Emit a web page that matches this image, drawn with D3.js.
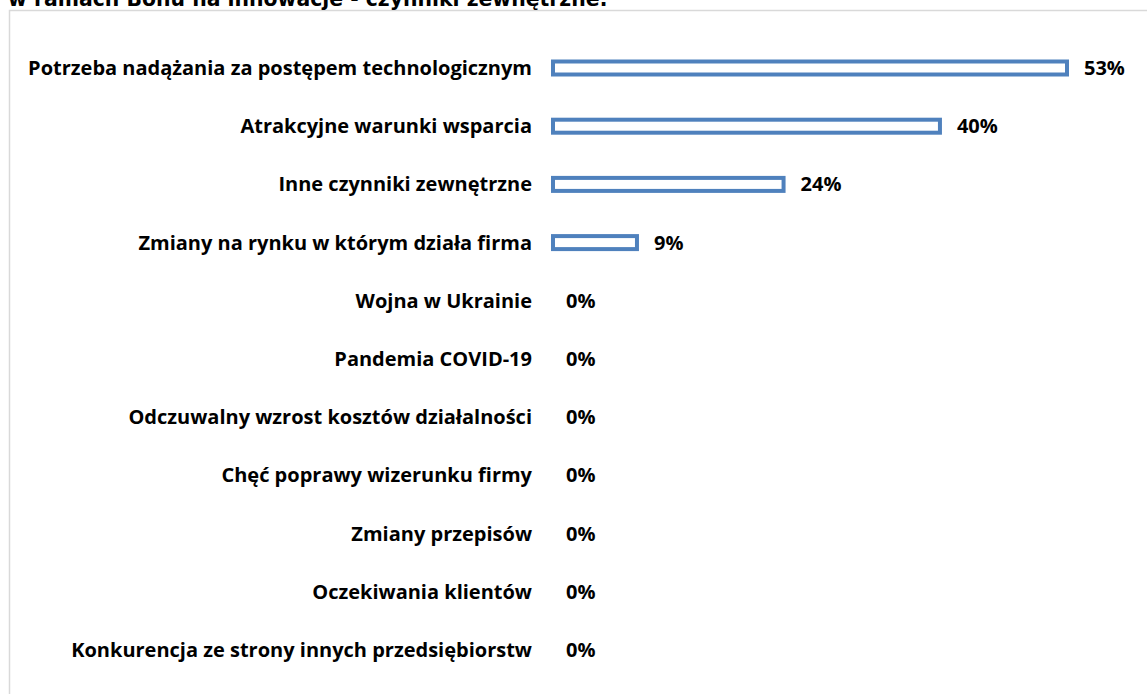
<!DOCTYPE html>
<html>
<head>
<meta charset="utf-8">
<script src="https://cdn.jsdelivr.net/npm/d3@7"></script>
<style>
  html, body { margin: 0; padding: 0; background: #fff; }
  svg { display: block; }
</style>
</head>
<body>
<svg id="chart" width="1147" height="694"></svg>
<script>
// Czynniki zewnętrzne – odsetek wskazań
const categories = [
  "Potrzeba nadążania za postępem technologicznym",
  "Atrakcyjne warunki wsparcia",
  "Inne czynniki zewnętrzne",
  "Zmiany na rynku w którym działa firma",
  "Wojna w Ukrainie",
  "Pandemia COVID-19",
  "Odczuwalny wzrost kosztów działalności",
  "Chęć poprawy wizerunku firmy",
  "Zmiany przepisów",
  "Oczekiwania klientów",
  "Konkurencja ze strony innych przedsiębiorstw"
];
const values = [53, 40, 24, 9, 0, 0, 0, 0, 0, 0, 0];
const titleText = "w ramach Bonu na innowacje - czynniki zewnętrzne:";

const svg = d3.select("#chart");
const W = 1147, H = 694;

// chart frame
svg.append("rect")
  .attr("x", 9.5).attr("y", 10.5)
  .attr("width", W + 10).attr("height", H + 10)
  .attr("fill", "#fff")
  .attr("stroke", "#d9d9d9").attr("stroke-width", 1.5);

// title (sits above the frame, partly outside the view)
svg.append("text")
  .attr("x", 8).attr("y", 6)
  .attr("font-family", "DejaVu Sans")
  .attr("font-weight", "bold")
  .attr("font-size", 20.4)
  .attr("fill", "#000")
  .text(titleText);

const x = d3.scaleLinear().domain([0, 53]).range([551, 1069]);
const y = d3.scalePoint().domain(categories).range([68, 650]);

const barH = 17, sw = 4;
const blue = "#4f81bd";
const labelFont = "Open Sans";
const labelSize = 20;

const rows = categories.map((c, i) => ({ c, v: values[i] }));

// bars: white fill with thick blue outline
svg.append("g").selectAll("rect")
  .data(rows.filter(d => d.v > 0))
  .join("rect")
  .attr("x", x(0) + sw / 2)
  .attr("y", d => y(d.c) - barH / 2 + sw / 2)
  .attr("width", d => x(d.v) - x(0) - sw)
  .attr("height", barH - sw)
  .attr("fill", "#fff")
  .attr("stroke", blue)
  .attr("stroke-width", sw);

// category labels
svg.append("g").selectAll("text")
  .data(rows)
  .join("text")
  .attr("x", 532)
  .attr("y", d => y(d.c))
  .attr("dy", "0.35em")
  .attr("text-anchor", "end")
  .attr("font-family", labelFont)
  .attr("font-weight", "bold")
  .attr("font-size", labelSize)
  .attr("fill", "#000")
  .text(d => d.c);

// value labels
svg.append("g").selectAll("text")
  .data(rows)
  .join("text")
  .attr("x", d => x(d.v) + 15)
  .attr("y", d => y(d.c))
  .attr("dy", "0.35em")
  .attr("font-family", labelFont)
  .attr("font-weight", "bold")
  .attr("font-size", labelSize)
  .attr("fill", "#000")
  .text(d => d.v + "%");
</script>
</body>
</html>
